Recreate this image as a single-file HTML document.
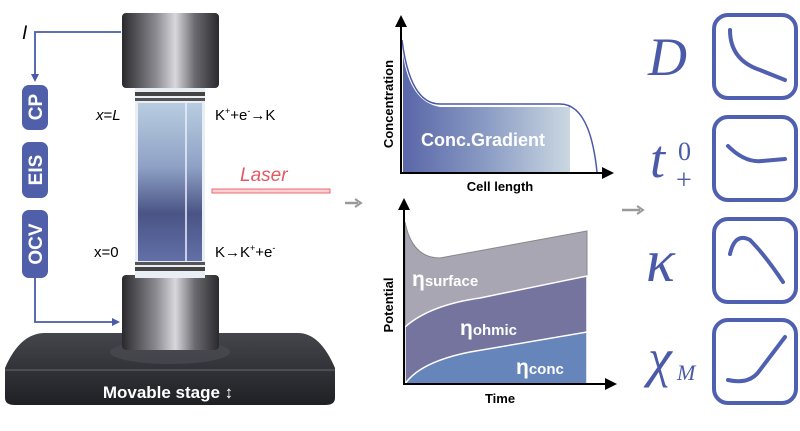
<!DOCTYPE html><html><head><meta charset="utf-8"><style>body{margin:0;background:#fff}svg{display:block}</style></head><body>
<svg width="800" height="431" viewBox="0 0 800 431" xmlns="http://www.w3.org/2000/svg" font-family="Liberation Sans, sans-serif">
<defs>
<linearGradient id="metal" x1="0" x2="1"><stop offset="0" stop-color="#2a2a2e"/><stop offset="0.35" stop-color="#8a8a90"/><stop offset="0.55" stop-color="#d8d8dc"/><stop offset="0.75" stop-color="#6a6a70"/><stop offset="1" stop-color="#2a2a2e"/></linearGradient>
<linearGradient id="glass" x1="0" y1="0" x2="0" y2="1"><stop offset="0" stop-color="#b8cde0"/><stop offset="0.4" stop-color="#8fa2c6"/><stop offset="0.7" stop-color="#4a5485"/><stop offset="1" stop-color="#6270a8"/></linearGradient>
<linearGradient id="base" x1="0" y1="0" x2="0" y2="1"><stop offset="0" stop-color="#44464c"/><stop offset="1" stop-color="#1e2024"/></linearGradient>
<linearGradient id="conc" x1="0" x2="1"><stop offset="0" stop-color="#5a66a8"/><stop offset="0.5" stop-color="#8a9cc4"/><stop offset="1" stop-color="#cbd8e2"/></linearGradient>
<marker id="ab" markerWidth="8" markerHeight="8" refX="6" refY="4" orient="auto" markerUnits="userSpaceOnUse"><path d="M0,0 L8,4 L0,8z" fill="#4a5aa8"/></marker>
<marker id="ak" markerWidth="12" markerHeight="12" refX="10" refY="6" orient="auto" markerUnits="userSpaceOnUse"><path d="M0,0 L12,6 L0,12z" fill="#000"/></marker>
</defs>
<!-- base -->
<path d="M45,333 L298,333 Q320,333 335,368 L335,398 Q335,405 325,405 L15,405 Q5,405 5,398 L5,368 Q20,333 45,333z" fill="url(#base)"/>
<path d="M5,370 L335,370" stroke="#55575c" stroke-width="1.5"/>
<ellipse cx="170" cy="352" rx="60" ry="12" fill="#4a4c52" opacity="0.7"/>
<text x="168" y="398" fill="#fff" font-weight="bold" font-size="17" text-anchor="middle">Movable stage ↕</text>
<!-- column -->
<rect x="122" y="275" width="97" height="75" rx="4" fill="url(#metal)"/>
<rect x="135" y="86" width="70" height="192" fill="#e8eef3"/>
<rect x="138" y="103" width="64" height="158" fill="url(#glass)"/>
<line x1="186" y1="95" x2="186" y2="270" stroke="#eef" stroke-width="1.5"/>
<rect x="135" y="92" width="70" height="4" fill="#444"/><rect x="135" y="98" width="70" height="3" fill="#555"/>
<rect x="135" y="262" width="70" height="3" fill="#555"/><rect x="135" y="267" width="70" height="4" fill="#444"/>
<rect x="122" y="13" width="97" height="75" rx="4" fill="url(#metal)"/>
<!-- labels -->
<text x="22" y="39" font-size="19" font-style="italic">I</text>
<path d="M121,32 L35,32 L35,80" fill="none" stroke="#4a5aa8" stroke-width="1.8" marker-end="url(#ab)"/>
<path d="M35,278 L35,322 L118,322" fill="none" stroke="#4a5aa8" stroke-width="1.8" marker-end="url(#ab)"/>
<rect x="22" y="85" width="26" height="45" rx="7" fill="#4f5faa"/>
<rect x="22" y="142" width="26" height="56" rx="7" fill="#4f5faa"/>
<rect x="22" y="210" width="26" height="68" rx="7" fill="#4f5faa"/>
<g fill="#fff" font-weight="bold" font-size="19" text-anchor="middle">
<text transform="translate(42,107) rotate(-90)">CP</text>
<text transform="translate(42,170) rotate(-90)">EIS</text>
<text transform="translate(42,244) rotate(-90)">OCV</text>
</g>
<g font-size="15">
<text x="96" y="120"><tspan font-style="italic">x</tspan>=<tspan font-style="italic">L</tspan></text>
<text x="94" y="257">x=0</text>
<text x="215" y="120">K<tspan font-size="9" dy="-6">+</tspan><tspan dy="6">+e</tspan><tspan font-size="9" dy="-6">-</tspan><tspan dy="6">→K</tspan></text>
<text x="215" y="257">K→K<tspan font-size="9" dy="-6">+</tspan><tspan dy="6">+e</tspan><tspan font-size="9" dy="-6">-</tspan></text>
</g>
<text x="240" y="181" fill="#e05a64" font-size="19" font-style="italic">Laser</text>
<rect x="212" y="189" width="118" height="4" fill="#fbd0d2" stroke="#e86a70" stroke-width="1"/>
<path d="M345,203 L358,203" stroke="#999" stroke-width="2.5"/><path d="M355,199 L361,203 L355,207" fill="none" stroke="#999" stroke-width="2"/>
<!-- top chart -->
<path d="M403,55 Q410,102 440,107 L570,107 L570,172 L403,172 Z" fill="url(#conc)"/>
<path d="M402,40 Q410,104 440,104 L560,104 Q590,104 597,172" fill="none" stroke="#4a5aa8" stroke-width="1.5"/>
<line x1="401" y1="173" x2="401" y2="17" stroke="#000" stroke-width="2" marker-end="url(#ak)"/>
<line x1="400" y1="173" x2="612" y2="173" stroke="#000" stroke-width="2" marker-end="url(#ak)"/>
<text x="421" y="146" fill="#fff" font-weight="bold" font-size="18">Conc.Gradient</text>
<text transform="translate(393,104) rotate(-90)" font-weight="bold" font-size="13" text-anchor="middle">Concentration</text>
<text x="500" y="191" font-weight="bold" font-size="13" text-anchor="middle">Cell length</text>
<!-- bottom chart -->
<path d="M405,222 Q412,258 440,258 L587,231 L587,384 L405,384Z" fill="#a8a6b2" stroke="#888" stroke-width="1"/>
<path d="M405,327 Q430,305 480,298 L587,276 L587,384 L405,384Z" fill="#74749f" stroke="#fff" stroke-width="1.5"/>
<path d="M405,384 Q420,362 470,352 L587,332 L587,384Z" fill="#6585bb" stroke="#fff" stroke-width="1.5"/>
<line x1="404" y1="385" x2="404" y2="200" stroke="#000" stroke-width="2" marker-end="url(#ak)"/>
<line x1="403" y1="384" x2="615" y2="384" stroke="#000" stroke-width="2" marker-end="url(#ak)"/>
<g fill="#fff" font-weight="bold"><text x="412" y="286" font-size="21">η<tspan font-size="15">surface</tspan></text>
<text x="460" y="335" font-size="21">η<tspan font-size="15">ohmic</tspan></text>
<text x="516" y="374" font-size="21">η<tspan font-size="15">conc</tspan></text></g>
<text transform="translate(393,305) rotate(-90)" font-weight="bold" font-size="13" text-anchor="middle">Potential</text>
<text x="500" y="403" font-weight="bold" font-size="13" text-anchor="middle">Time</text>
<path d="M622,210 L640,210" stroke="#999" stroke-width="2.5"/><path d="M637,206 L643,210 L637,214" fill="none" stroke="#999" stroke-width="2"/>
<!-- right column -->
<g fill="#4a5aa8" font-family="Liberation Serif, serif" font-style="italic">
<text x="648" y="75" font-size="54">D</text>
<text x="650" y="177" font-size="54">t</text><text x="678" y="160" font-size="26" font-style="normal">0</text><text x="676" y="189" font-size="28" font-style="normal">+</text>
<text x="646" y="281" font-size="60">κ</text>
<text x="648" y="376" font-size="54">χ</text><text x="677" y="380" font-size="22">M</text>
</g>
<g fill="none" stroke="#5060b0" stroke-width="4" stroke-linecap="round">
<rect x="714" y="15" width="82" height="83" rx="14"/>
<rect x="714" y="117" width="82" height="83" rx="14"/>
<rect x="714" y="219" width="82" height="83" rx="14"/>
<rect x="714" y="320" width="82" height="83" rx="14"/>
<path d="M730,30 Q730,60 760,70 L785,80"/>
<path d="M728,146 Q745,163 762,161 L785,159"/>
<path d="M730,254 Q735,232 750,240 Q765,255 783,282"/>
<path d="M728,380 Q750,385 760,370 L785,337"/>
</g>
</svg>
</body></html>
